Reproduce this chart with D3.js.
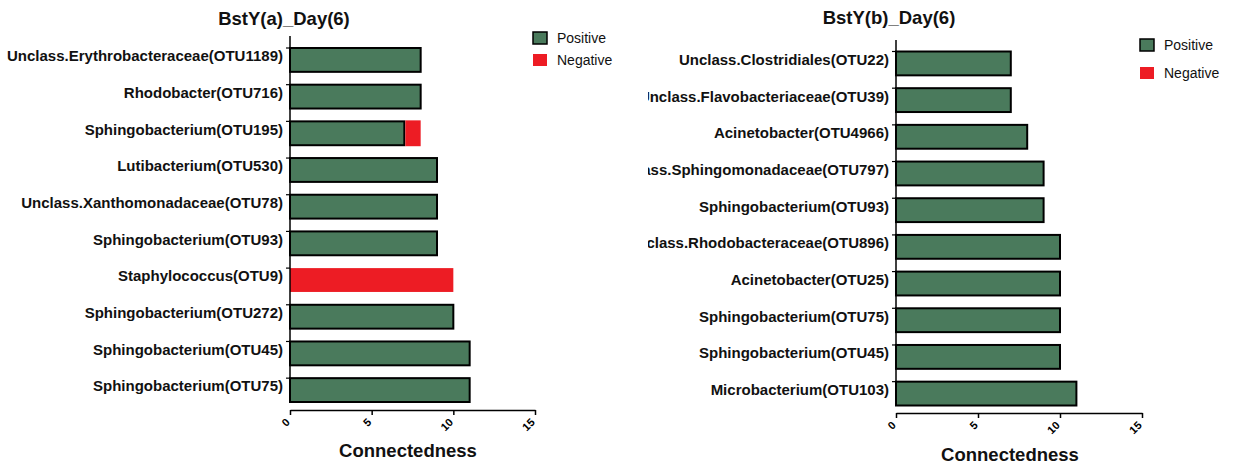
<!DOCTYPE html>
<html>
<head>
<meta charset="utf-8">
<script src="https://cdn.jsdelivr.net/npm/d3@7/dist/d3.min.js"></script>
<style>
  html, body { margin: 0; padding: 0; background: #fff; }
  svg { display: block; font-family: "Liberation Sans", Arial, sans-serif; }
</style>
</head>
<body>
<svg id="chart" width="1235" height="464"></svg>
<script>
// Panel (a): taxa listed top to bottom, with positive / negative connectedness
const taxaA = [
  "Unclass.Erythrobacteraceae(OTU1189)",
  "Rhodobacter(OTU716)",
  "Sphingobacterium(OTU195)",
  "Lutibacterium(OTU530)",
  "Unclass.Xanthomonadaceae(OTU78)",
  "Sphingobacterium(OTU93)",
  "Staphylococcus(OTU9)",
  "Sphingobacterium(OTU272)",
  "Sphingobacterium(OTU45)",
  "Sphingobacterium(OTU75)"
];
const positiveA = [8, 8, 7, 9, 9, 9, 0, 10, 11, 11];
const negativeA = [0, 0, 1, 0, 0, 0, 10, 0, 0, 0];

// Panel (b)
const taxaB = [
  "Unclass.Clostridiales(OTU22)",
  "Unclass.Flavobacteriaceae(OTU39)",
  "Acinetobacter(OTU4966)",
  "Unclass.Sphingomonadaceae(OTU797)",
  "Sphingobacterium(OTU93)",
  "Unclass.Rhodobacteraceae(OTU896)",
  "Acinetobacter(OTU25)",
  "Sphingobacterium(OTU75)",
  "Sphingobacterium(OTU45)",
  "Microbacterium(OTU103)"
];
const positiveB = [7, 7, 8, 9, 9, 10, 10, 10, 10, 11];
const negativeB = [0, 0, 0, 0, 0, 0, 0, 0, 0, 0];

const xTicks = [0, 5, 10, 15];
const legendLabels = ["Positive", "Negative"];
const titles = ["BstY(a)_Day(6)", "BstY(b)_Day(6)"];
const xTitle = "Connectedness";

const GREEN = "#4a7a5c";
const RED = "#ed1c24";

const svg = d3.select("#chart");

svg.append("defs").append("clipPath").attr("id", "clipB")
  .append("rect").attr("x", 648).attr("y", 0).attr("width", 600).attr("height", 464);

function drawPanel(cfg) {
  const g = svg.append("g");
  if (cfg.clip) g.attr("clip-path", "url(#" + cfg.clip + ")");

  const x = d3.scaleLinear().domain([0, 15]).range([cfg.x0, cfg.x1]);
  const y = d3.scaleBand().domain(cfg.taxa).range([cfg.barTop, cfg.barBottom])
    .paddingInner(0.35).paddingOuter(0);

  // title
  g.append("text")
    .attr("x", cfg.titleX).attr("y", cfg.titleY)
    .attr("text-anchor", "middle")
    .attr("font-size", 18.5).attr("font-weight", "bold")
    .attr("fill", "#111")
    .text(cfg.title);

  // bars: positive segment first, negative stacked on its end
  const rows = cfg.taxa.map((t, i) => ({ t, p: cfg.pos[i], n: cfg.neg[i] }));
  g.selectAll("rect.pos").data(rows.filter(d => d.p > 0)).join("rect")
    .attr("class", "pos")
    .attr("x", x(0))
    .attr("y", d => y(d.t))
    .attr("width", d => x(d.p) - x(0))
    .attr("height", y.bandwidth())
    .attr("fill", GREEN)
    .attr("stroke", "#000").attr("stroke-width", 2);
  g.selectAll("rect.neg").data(rows.filter(d => d.n > 0)).join("rect")
    .attr("class", "neg")
    .attr("x", d => x(d.p) + (d.p > 0 ? 1 : 0))
    .attr("y", d => y(d.t) - (d.p > 0 ? 1 : 0))
    .attr("width", d => x(d.p + d.n) - x(d.p) - (d.p > 0 ? 1 : 0))
    .attr("height", d => y.bandwidth() + (d.p > 0 ? 2 : 0))
    .attr("fill", RED);

  // y axis: plain line with short ticks at each bar top and category labels
  g.append("line")
    .attr("x1", x(0)).attr("x2", x(0))
    .attr("y1", cfg.axisTop).attr("y2", cfg.barBottom)
    .attr("stroke", "#000").attr("stroke-width", 1.5);
  g.selectAll("line.ytick").data(cfg.taxa).join("line")
    .attr("class", "ytick")
    .attr("x1", x(0) - 4).attr("x2", x(0))
    .attr("y1", d => y(d)).attr("y2", d => y(d))
    .attr("stroke", "#000").attr("stroke-width", 1.2);
  g.selectAll("text.ylab").data(cfg.taxa).join("text")
    .attr("class", "ylab")
    .attr("x", x(0) - 7)
    .attr("y", d => y(d) + y.bandwidth() / 2 - 4)
    .attr("dy", "0.36em")
    .attr("text-anchor", "end")
    .attr("font-size", 15).attr("font-weight", "bold")
    .attr("fill", "#111")
    .text(d => d);

  // x axis, offset below the bars
  const xa = g.append("g")
    .attr("transform", "translate(0," + cfg.xAxisY + ")")
    .call(d3.axisBottom(x).tickValues(xTicks).tickSize(5).tickSizeOuter(0));
  xa.select(".domain").attr("stroke", "#000").attr("stroke-width", 1.5);
  xa.selectAll(".tick line").attr("stroke", "#000").attr("stroke-width", 1.5);
  xa.selectAll(".tick text")
    .attr("font-family", "'Liberation Sans', Arial, sans-serif")
    .attr("font-size", 11).attr("font-weight", "bold").attr("fill", "#000")
    .attr("text-anchor", "end")
    .attr("dy", null)
    .attr("transform", "translate(0,13) rotate(-45)")
    .attr("y", 0).attr("x", 0);

  g.append("text")
    .attr("x", cfg.xTitleX).attr("y", cfg.xTitleY)
    .attr("text-anchor", "middle")
    .attr("font-size", 18.5).attr("font-weight", "bold")
    .attr("fill", "#111")
    .text(xTitle);

  // legend
  const colors = [GREEN, RED];
  legendLabels.forEach((lab, i) => {
    const ly = cfg.legendY + i * cfg.legendGap;
    g.append("rect")
      .attr("x", cfg.legendX).attr("y", ly - 6)
      .attr("width", 14).attr("height", 12)
      .attr("fill", colors[i])
      .attr("stroke", i === 0 ? "#000" : "none").attr("stroke-width", 1.5);
    g.append("text")
      .attr("x", cfg.legendX + 24).attr("y", ly)
      .attr("dy", "0.36em")
      .attr("font-size", 14)
      .attr("fill", "#111")
      .text(lab);
  });
}

drawPanel({
  taxa: taxaA, pos: positiveA, neg: negativeA, title: titles[0],
  x0: 290, x1: 535, barTop: 48, barBottom: 402, axisTop: 36, xAxisY: 410,
  titleX: 284, titleY: 25, xTitleX: 408, xTitleY: 457,
  legendX: 533, legendY: 38, legendGap: 22
});

drawPanel({
  taxa: taxaB, pos: positiveB, neg: negativeB, title: titles[1],
  x0: 896, x1: 1142, barTop: 51.5, barBottom: 405.5, axisTop: 40, xAxisY: 413,
  titleX: 889, titleY: 24, xTitleX: 1010, xTitleY: 461,
  legendX: 1140, legendY: 45, legendGap: 28, clip: "clipB"
});
</script>
</body>
</html>
